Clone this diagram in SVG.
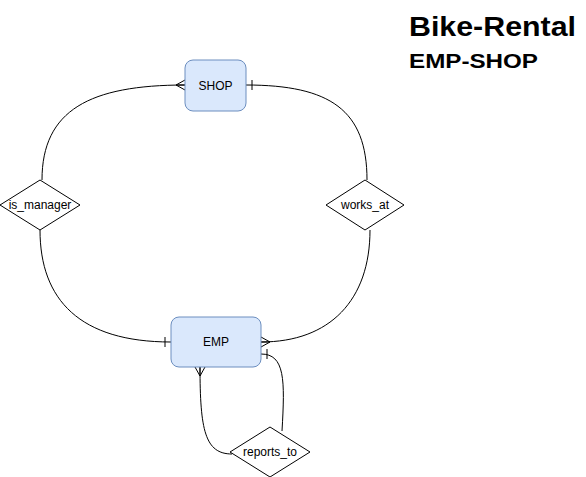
<svg xmlns="http://www.w3.org/2000/svg" width="586" height="477" viewBox="0 0 586 477">
<style>
.ent{fill:#dae8fc;stroke:#6c8ebf;stroke-width:1}
.rel{fill:#ffffff;stroke:#000000;stroke-width:1}
.lbl{font-family:"Liberation Sans",Arial,sans-serif;font-size:12px;fill:#000000;text-anchor:middle;dominant-baseline:central}
.edge{fill:none;stroke:#000000;stroke-width:1}
.title{font-family:"Liberation Sans",Arial,sans-serif;font-weight:bold;fill:#000000}
</style>
<defs>
<marker id="many" markerUnits="userSpaceOnUse" viewBox="-12 -7 14 14" refX="0" refY="0" markerWidth="14" markerHeight="14" orient="auto" overflow="visible">
<path d="M0,-5 L-9,0 L0,5 M-9,0 L0,0" fill="none" stroke="#000" stroke-width="1"/>
</marker>
<marker id="one" markerUnits="userSpaceOnUse" viewBox="-12 -7 14 14" refX="0" refY="0" markerWidth="14" markerHeight="14" orient="auto" overflow="visible">
<path d="M-6,-5 L-6,5" fill="none" stroke="#000" stroke-width="1"/>
</marker>
</defs>
<rect width="586" height="477" fill="#ffffff"/>
<g id="connectors">
<path class="edge" d="M42,180 C42,110 90,85 185,85" marker-end="url(#many)"/>
<path class="edge" d="M40,230 C40,300 80,342 171,342" marker-end="url(#one)"/>
<path class="edge" d="M367,180 C367,110 330,85 246,85" marker-end="url(#one)"/>
<path class="edge" d="M370,230 C370,300 330,342 261,342" marker-end="url(#many)"/>
<path class="edge" d="M232,454 C205,454 200,430 200,367" marker-end="url(#many)"/>
<path class="edge" d="M282,431 C285,380 285,354 261,354" marker-end="url(#one)"/>
</g>
<g id="SHOP">
<rect class="ent" x="185" y="60" width="61" height="51" rx="8"/>
<text class="lbl" x="215.5" y="85.5">SHOP</text>
</g>
<g id="EMP">
<rect class="ent" x="171" y="317" width="90" height="50" rx="8"/>
<text class="lbl" x="216" y="342">EMP</text>
</g>
<g id="is_manager">
<path class="rel" d="M40,180 L80,205 L40,230 L0,205 Z"/>
<text class="lbl" x="40" y="205">is_manager</text>
</g>
<g id="works_at">
<path class="rel" d="M365,180 L404,205 L365,230 L326,205 Z"/>
<text class="lbl" x="365" y="205">works_at</text>
</g>
<g id="reports_to">
<path class="rel" d="M270,427 L310,452 L270,477 L230,452 Z"/>
<text class="lbl" x="270" y="452">reports_to</text>
</g>
<g id="title">
<text class="title" x="409" y="36" font-size="27" textLength="167" lengthAdjust="spacingAndGlyphs">Bike-Rental</text>
<text class="title" x="409" y="67.5" font-size="21" textLength="129" lengthAdjust="spacingAndGlyphs">EMP-SHOP</text>
</g>
</svg>
